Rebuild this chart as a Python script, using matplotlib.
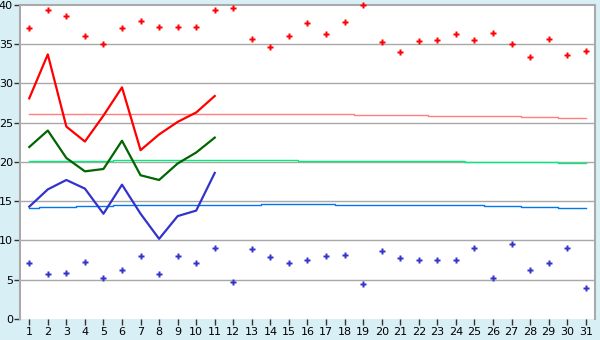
import matplotlib
matplotlib.use('Agg')
import matplotlib.pyplot as plt

days = list(range(1, 32))

# record highs / lows per day (points)
rec_max = [37.0, 39.3, 38.6, 36.0, 35.0, 37.0, 38.0, 37.2, 37.2, 37.2,
           39.3, 39.6, 35.6, 34.6, 36.0, 37.7, 36.3, 37.8, 40.0, 35.3,
           34.0, 35.4, 35.5, 36.3, 35.5, 36.4, 35.0, 33.4, 35.6, 33.6, 34.1]
rec_min = [7.07, 5.67, 5.9, 7.2, 5.2, 6.2, 8.0, 5.67, 8.0, 7.07,
           9.0, 4.65, 8.85, 7.83, 7.07, 7.5, 7.96, 8.2, 4.5, 8.6,
           7.7, 7.45, 7.45, 7.45, 9.0, 5.16, 9.5, 6.2, 7.07, 9.0, 3.9]

# this month so far
obs_days = list(range(1, 12))
obs_max = [28.1, 33.7, 24.5, 22.6, 25.9, 29.5, 21.5, 23.5, 25.1, 26.3, 28.4]
obs_mean = [21.9, 24.0, 20.5, 18.8, 19.1, 22.7, 18.3, 17.7, 19.8, 21.2, 23.1]
obs_min = [14.3, 16.5, 17.7, 16.6, 13.4, 17.1, 13.4, 10.2, 13.1, 13.8, 18.6]

# normals
norm_max = [26.12] * 18 + [26.0] * 4 + [25.87] * 5 + [25.74] * 2 + [25.6] * 2
norm_mean = [20.1] * 5 + [20.27] * 10 + [20.15] * 9 + [20.02] * 5 + [19.9] * 2
norm_min = ([14.18] + [14.3] * 2 + [14.43] * 2 + [14.56] * 8 + [14.69] * 4
            + [14.56] * 8 + [14.43] * 2 + [14.3] * 2 + [14.18] * 2)

bg = '#d9eff6'
fig = plt.figure(figsize=(6, 3.4), dpi=100, facecolor=bg)
ax = fig.add_axes([0.0333, 0.062, 0.9584, 0.9235])
ax.set_facecolor('white')

ax.set_xlim(0.5, 31.5)
ax.set_ylim(0, 40)
ax.set_yticks(range(0, 41, 5))
ax.set_xticks(days)
for y in range(5, 40, 5):
    ax.axhline(y, color='#a8a8a8', lw=1.0, zorder=1)

ax.plot(days, norm_max, color='#ff7f7f', lw=1.0, drawstyle='steps-mid', zorder=2)
ax.plot(days, norm_mean, color='#00ee77', lw=1.0, drawstyle='steps-mid', zorder=2)
ax.plot(days, norm_min, color='#0077ee', lw=1.0, drawstyle='steps-mid', zorder=2)

ax.plot(obs_days, obs_max, color='#ff0000', lw=1.6, zorder=3)
ax.plot(obs_days, obs_mean, color='#006600', lw=1.6, zorder=3)
ax.plot(obs_days, obs_min, color='#3333cc', lw=1.6, zorder=3)

ax.plot(days, rec_max, ls='none', marker='P', ms=5, color='#ff0000',
        mec='none', zorder=4, clip_on=False)
ax.plot(days, rec_min, ls='none', marker='P', ms=5, color='#3333cc',
        mec='none', zorder=4, clip_on=False)

for s in ['left', 'top', 'right']:
    ax.spines[s].set_color('#aaaaaa')
    ax.spines[s].set_linewidth(1.5)
ax.spines['bottom'].set_visible(False)
ax.tick_params(axis='both', colors='#333333', labelcolor='black',
               labelsize=8, length=4, width=1)
ax.tick_params(axis='x', pad=2)
ax.tick_params(axis='y', pad=1)

plt.savefig('out.png', dpi=100, facecolor=bg)
plt.close()
